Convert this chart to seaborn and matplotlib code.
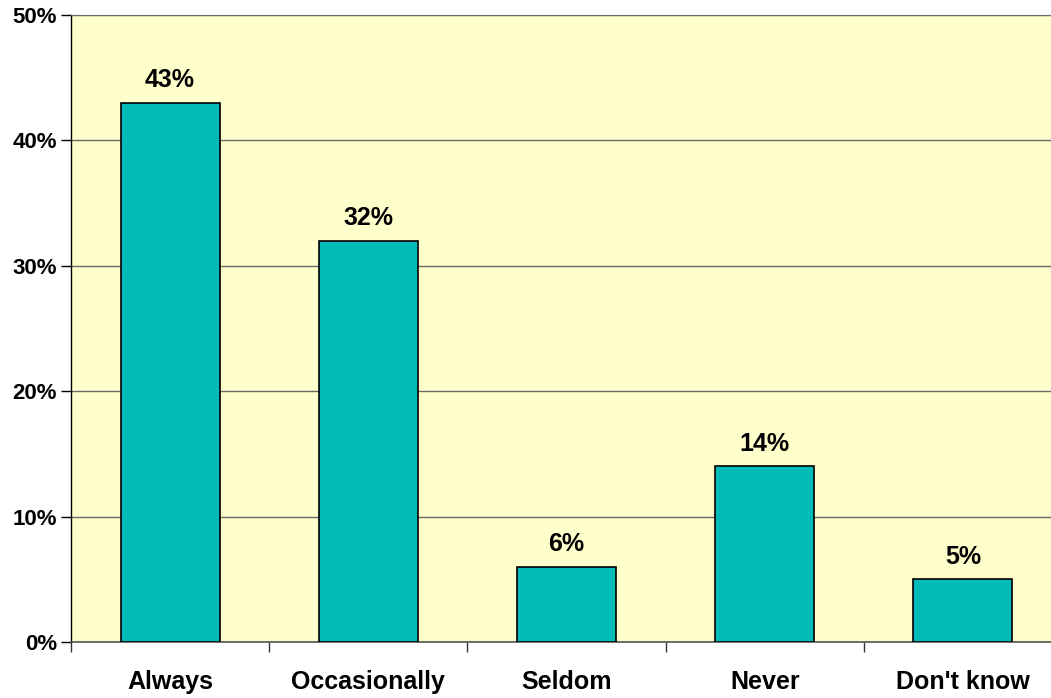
import matplotlib
matplotlib.use("Agg")
import matplotlib.pyplot as plt
import matplotlib.ticker as mticker
import seaborn as sns
import pandas as pd
import numpy as np

# survey answers and their share (percent)
categories = ["Always", "Occasionally", "Seldom", "Never", "Don't know"]
shares = [43, 32, 6, 14, 5]
y_ticks = [0, 10, 20, 30, 40, 50]

df = pd.DataFrame({"answer": categories, "share": shares})

sns.set_style("white")
plt.rcParams["font.family"] = ["Liberation Sans", "DejaVu Sans"]
plt.rcParams["font.weight"] = "bold"
plt.rcParams["text.color"] = "black"
plt.rcParams["xtick.color"] = "black"
plt.rcParams["ytick.color"] = "black"

fig = plt.figure(figsize=(10.51, 6.98), dpi=100)
ax = fig.add_axes([71 / 1051, 56 / 698, 991 / 1051, 627 / 698])
ax.set_facecolor("#FFFFCC")

sns.barplot(data=df, x="answer", y="share", color="#00BBB8", width=0.5,
            edgecolor="black", linewidth=1.2, saturation=1, ax=ax, zorder=3)

for i, v in enumerate(shares):
    ax.text(i, v + 0.85, f"{v}%", ha="center", va="bottom",
            fontsize=18, fontweight="bold", color="black")

ax.set_xlim(-0.5, len(categories) - 0.5)
ax.set_ylim(0, 50)
ax.set_yticks(y_ticks)
ax.yaxis.set_major_formatter(mticker.FuncFormatter(lambda v, _: f"{int(v)}%"))
ax.grid(axis="y", color="#6a6a6a", linewidth=1, zorder=0)
ax.set_axisbelow(True)

# tick marks sit between categories, labels under the bars
ax.set_xticks(range(len(categories)))
ax.set_xticklabels(categories)
ax.set_xticks(np.arange(-0.5, len(categories), 1), minor=True)
ax.tick_params(axis="x", which="major", length=0, pad=20, labelsize=18)
ax.tick_params(axis="x", which="minor", length=7, width=1, color="#333333",
               direction="out", bottom=True)
ax.tick_params(axis="y", length=7, width=1, color="black", direction="out",
               left=True, pad=3, labelsize=16)
for lab in ax.get_xticklabels() + ax.get_yticklabels():
    lab.set_fontweight("bold")
    lab.set_color("black")

ax.set_xlabel("")
ax.set_ylabel("")
ax.spines["right"].set_visible(False)
ax.spines["top"].set_color("#6a6a6a")
ax.spines["left"].set_color("black")
ax.spines["bottom"].set_color("#555555")
ax.spines["left"].set_linewidth(1)
ax.spines["bottom"].set_linewidth(1.2)

fig.savefig("out.png", dpi=100)
